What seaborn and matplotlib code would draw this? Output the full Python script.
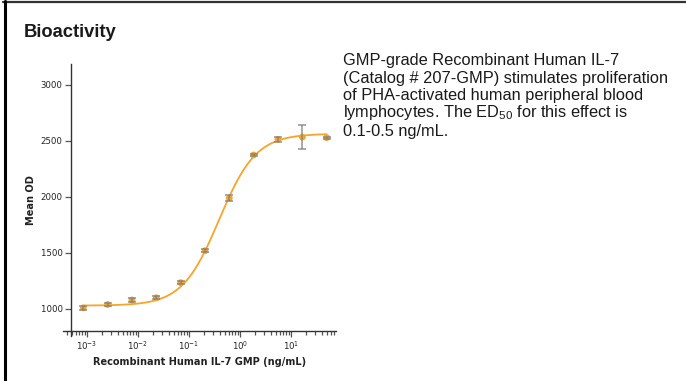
import os
import numpy as np
import pandas as pd
import matplotlib
matplotlib.use("Agg")
import matplotlib.pyplot as plt
from matplotlib import font_manager as fm
from matplotlib.lines import Line2D
from matplotlib.ticker import FixedLocator, FuncFormatter, LogLocator, NullFormatter
import seaborn as sns

# Three-fold dilution series of IL-7 (ng/mL) and the measured response
concentration = [0.000847, 0.00254, 0.00762, 0.0229, 0.0686, 0.206,
                 0.617, 1.85, 5.56, 16.7, 50.0]
mean_od = [1010, 1040, 1080, 1100, 1235, 1520, 1990, 2375, 2515, 2535, 2530]
od_error = [20, 12, 18, 15, 15, 15, 30, 10, 20, 105, 8]

# Four-parameter logistic fit through the points
fit_bottom, fit_top, fit_ec50, fit_hill = 1030, 2565, 0.39, 1.2

y_ticks = [1000, 1500, 2000, 2500, 3000]
x_tick_exponents = [-3, -2, -1, 0, 1]

title = "Bioactivity"
x_label = "Recombinant Human IL-7 GMP (ng/mL)"
y_label = "Mean OD"
description = [
    "GMP-grade Recombinant Human IL-7",
    "(Catalog # 207-GMP) stimulates proliferation",
    "of PHA-activated human peripheral blood",
    r"lymphocytes. The $\mathregular{ED_{50}}$ for this effect is",
    "0.1-0.5 ng/mL.",
]

sns.set_theme(style="ticks")
plt.rcParams["font.family"] = ["Liberation Sans", "DejaVu Sans"]


def narrow_font(bold, size):
    """Pick an installed narrow/condensed face for the axis text."""
    best = None
    for f in fm.fontManager.ttflist:
        key = (f.name + " " + os.path.basename(f.fname)).lower()
        if not any(k in key for k in ("narrow", "condensed", "cond")):
            continue
        if "oblique" in key or "italic" in key:
            continue
        is_bold = ("bold" in key) or (f.weight in ("bold", 700))
        if is_bold != bold:
            continue
        if best is None or "liberation" in key:
            best = f
    if best is not None:
        return fm.FontProperties(fname=best.fname, size=size)
    return fm.FontProperties(family="Roboto", weight="bold" if bold else "normal",
                             size=size)


tick_font = narrow_font(False, 6.8)
label_font = narrow_font(True, 7.8)

W, H = 686, 381
fig = plt.figure(figsize=(W / 100, H / 100), dpi=100)
fig.patch.set_facecolor("white")

# axes box in pixels: left 63, right 336, top 64, bottom 336
ax = fig.add_axes([63 / W, (H - 336) / H, (336 - 63) / W, (336 - 64) / H])
ax.set_facecolor("white")


def px_to_log(p):
    return -3 + (p - 87) / 51.0


def px_to_val(p):
    return 1000 + (309 - p) * 500 / 56.0


ax.set_xscale("log")
ax.set_xlim(10 ** px_to_log(63), 10 ** px_to_log(336))
ax.set_ylim(px_to_val(336), px_to_val(64))

orange = "#F6A52A"
grey = "#808080"

df = pd.DataFrame({"conc": concentration, "od": mean_od, "err": od_error})

xs = np.logspace(np.log10(concentration[0]), np.log10(concentration[-1]), 300)
ys = fit_bottom + (fit_top - fit_bottom) / (1 + (fit_ec50 / xs) ** fit_hill)
fit_df = pd.DataFrame({"conc": xs, "od": ys})

sns.lineplot(data=fit_df, x="conc", y="od", ax=ax, color=orange, lw=1.3, zorder=2)
sns.scatterplot(data=df, x="conc", y="od", ax=ax, color=orange, s=24,
                edgecolor="none", zorder=3)
ax.errorbar(df["conc"], df["od"], yerr=df["err"], fmt="none", ecolor=grey,
            elinewidth=1.1, capsize=3, capthick=1.1, alpha=0.85, zorder=4)

# spines
for side in ("top", "right"):
    ax.spines[side].set_visible(False)
ax.spines["left"].set_position(("data", 10 ** px_to_log(71)))
ax.spines["bottom"].set_position(("data", px_to_val(331)))
for side in ("left", "bottom"):
    ax.spines[side].set_color("#333333")
    ax.spines[side].set_linewidth(1.0)

ax.yaxis.set_major_locator(FixedLocator(y_ticks))
ax.xaxis.set_major_locator(FixedLocator([10.0 ** e for e in x_tick_exponents]))
ax.xaxis.set_minor_locator(LogLocator(base=10, subs=np.arange(2, 10), numticks=20))
ax.xaxis.set_minor_formatter(NullFormatter())
ax.xaxis.set_major_formatter(FuncFormatter(
    lambda v, pos: r"$\mathregular{10^{%d}}$" % round(np.log10(v))))

ax.tick_params(axis="both", which="both", direction="out", color="#555555",
               width=0.9, pad=2)
ax.tick_params(axis="both", which="major", length=4)
ax.tick_params(axis="x", which="minor", length=3)
fig.canvas.draw()
for lab in ax.get_xticklabels() + ax.get_yticklabels():
    lab.set_fontproperties(tick_font)
    lab.set_color("#222222")

ax.set_xlabel(x_label, fontproperties=label_font, color="#222222", labelpad=4)
ax.set_ylabel(y_label, fontproperties=label_font, color="#222222", labelpad=3)

# title and description
fig.text(24 / W, 1 - 37 / H, title, weight="bold", fontsize=13.2,
         color="#1a1a1a", va="baseline")
baselines = [65, 82.5, 100, 117.5, 136]
for line, b in zip(description, baselines):
    fig.text(343 / W, 1 - b / H, line, fontsize=11.8, color="#1a1a1a",
             va="baseline")

# frame lines along the top and left edges
fig.add_artist(Line2D([3 / W, 1], [1 - 1.5 / H, 1 - 1.5 / H],
                      transform=fig.transFigure, color="#333333", lw=1.6))
fig.add_artist(Line2D([4.5 / W, 4.5 / W], [0, 1 - 1 / H],
                      transform=fig.transFigure, color="black", lw=2.2))

fig.savefig("out.png", dpi=100)
